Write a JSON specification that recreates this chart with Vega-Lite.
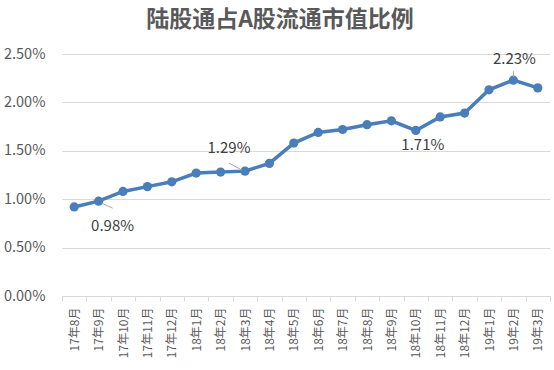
{
  "$schema": "https://vega.github.io/schema/vega-lite/v6.json",
  "width": 488,
  "height": 242,
  "autosize": "none",
  "padding": {"left": 62, "top": 54, "right": 4, "bottom": 74},
  "background": "white",
  "title": {
    "text": "陆股通占A股流通市值比例",
    "font": "Noto Sans CJK SC",
    "fontSize": 23,
    "fontWeight": "bold",
    "color": "#595959",
    "anchor": "middle",
    "dx": -26,
    "offset": 14
  },
  "config": {
    "view": {"stroke": null},
    "font": "Noto Sans CJK SC"
  },
  "data": {
    "values": [
      {"month": "17年8月", "value": 0.0092},
      {"month": "17年9月", "value": 0.0098},
      {"month": "17年10月", "value": 0.0108},
      {"month": "17年11月", "value": 0.0113},
      {"month": "17年12月", "value": 0.0118},
      {"month": "18年1月", "value": 0.0127},
      {"month": "18年2月", "value": 0.0128},
      {"month": "18年3月", "value": 0.0129},
      {"month": "18年4月", "value": 0.0137},
      {"month": "18年5月", "value": 0.0158},
      {"month": "18年6月", "value": 0.0169},
      {"month": "18年7月", "value": 0.0172},
      {"month": "18年8月", "value": 0.0177},
      {"month": "18年9月", "value": 0.0181},
      {"month": "18年10月", "value": 0.0171},
      {"month": "18年11月", "value": 0.0185},
      {"month": "18年12月", "value": 0.0189},
      {"month": "19年1月", "value": 0.0213},
      {"month": "19年2月", "value": 0.0223},
      {"month": "19年3月", "value": 0.0215}
    ]
  },
  "encoding": {
    "x": {
      "field": "month",
      "type": "ordinal",
      "sort": null,
      "scale": {"paddingInner": 0, "paddingOuter": 0},
      "axis": {
        "title": null,
        "labelAngle": -90,
        "labelFontSize": 12,
        "labelColor": "#595959",
        "labelPadding": 6,
        "tickBand": "extent",
        "tickSize": 5,
        "tickColor": "#d9d9d9",
        "domainColor": "#d9d9d9",
        "grid": false
      }
    },
    "y": {
      "field": "value",
      "type": "quantitative",
      "scale": {"domain": [0, 0.025], "nice": false},
      "axis": {
        "title": null,
        "values": [0, 0.005, 0.01, 0.015, 0.02, 0.025],
        "format": ".2%",
        "labelFontSize": 14.5,
        "labelColor": "#595959",
        "labelPadding": 17,
        "ticks": false,
        "domain": false,
        "gridColor": "#d9d9d9",
        "gridWidth": 1
      }
    }
  },
  "layer": [
    {
      "mark": {"type": "line", "color": "#4a7ebb", "strokeWidth": 3.5},
      "encoding": {}
    },
    {
      "mark": {"type": "point", "filled": true, "opacity": 1, "color": "#4a7ebb", "size": 85},
      "encoding": {}
    },
    {
      "transform": [{"filter": "datum.month === '17年9月'"}],
      "mark": {"type": "rule", "color": "#a6a6a6", "strokeWidth": 1, "xOffset": 3, "yOffset": 2, "x2Offset": 14, "y2Offset": 7},
      "encoding": {"x2": {"field": "month"}, "y2": {"field": "value"}}
    },
    {
      "transform": [{"filter": "datum.month === '18年3月'"}],
      "mark": {"type": "rule", "color": "#a6a6a6", "strokeWidth": 1, "xOffset": -16, "yOffset": -8, "x2Offset": -3, "y2Offset": -1},
      "encoding": {"x2": {"field": "month"}, "y2": {"field": "value"}}
    },
    {
      "transform": [{"filter": "datum.month === '19年2月'"}],
      "mark": {"type": "rule", "color": "#a6a6a6", "strokeWidth": 1, "yOffset": -9, "y2Offset": -3},
      "encoding": {"x2": {"field": "month"}, "y2": {"field": "value"}}
    },
    {
      "transform": [{"filter": "datum.month === '17年9月'"}],
      "mark": {"type": "text", "fontSize": 15, "color": "#404040", "dx": 14, "dy": 25},
      "encoding": {"text": {"field": "value", "format": ".2%"}}
    },
    {
      "transform": [{"filter": "datum.month === '18年3月'"}],
      "mark": {"type": "text", "fontSize": 15, "color": "#404040", "dx": -16, "dy": -23},
      "encoding": {"text": {"field": "value", "format": ".2%"}}
    },
    {
      "transform": [{"filter": "datum.month === '18年10月'"}],
      "mark": {"type": "text", "fontSize": 15, "color": "#404040", "dx": 7, "dy": 15},
      "encoding": {"text": {"field": "value", "format": ".2%"}}
    },
    {
      "transform": [{"filter": "datum.month === '19年2月'"}],
      "mark": {"type": "text", "fontSize": 15, "color": "#404040", "dx": 1, "dy": -21},
      "encoding": {"text": {"field": "value", "format": ".2%"}}
    }
  ]
}
